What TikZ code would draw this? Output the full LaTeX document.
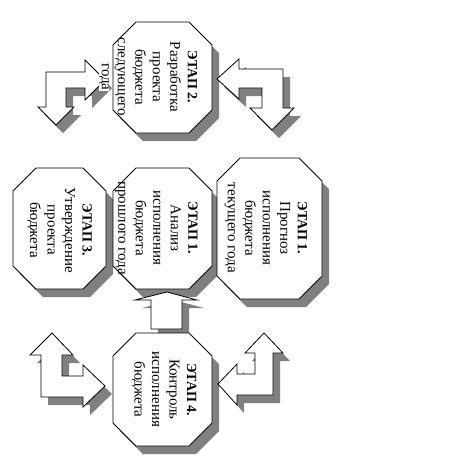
\documentclass[tikz,border=0pt]{standalone}
\usepackage{fontspec}
\setmainfont{Liberation Serif}
\definecolor{shd}{HTML}{808080}
\tikzset{
  shadowfill/.style={fill=shd, draw=none, shift={(7,8)}},
  boxline/.style={draw=black, fill=white, line width=0.8pt, line join=miter},
  txt/.style={rotate=-90, align=center, inner sep=0pt,
    font=\fontsize{15}{17.5}\selectfont},
}
\newcommand\ttl[1]{{\fontsize{14}{17.5}\selectfont\bfseries #1}}
% octagon: x1,y1,x2,y2 (cut 23)
\newcommand\octo[4]{%
  \path[shadowfill] (#1+23,#2) -- (#3-23,#2) -- (#3,#2+23) -- (#3,#4-23) -- (#3-23,#4) -- (#1+23,#4) -- (#1,#4-23) -- (#1,#2+23) -- cycle;
  \path[boxline] (#1+23,#2) -- (#3-23,#2) -- (#3,#2+23) -- (#3,#4-23) -- (#3-23,#4) -- (#1+23,#4) -- (#1,#4-23) -- (#1,#2+23) -- cycle;}
\newcommand\barrow[1]{%
  \path[shadowfill] #1;
  \path[boxline] #1;}
\begin{document}
\begin{tikzpicture}[x=1pt,y=-1pt]
\useasboundingbox (0,0) rectangle (463,467);
% octagons
\octo{13}{168}{106}{289}
\octo{113}{168}{212}{289}
\octo{217}{158}{322}{299}
\octo{113}{22}{212}{133}
% up arrow
\barrow{(167,292) -- (197,300) -- (182,300) -- (182,329) -- (151,329) -- (151,300) -- (135,300) -- cycle}
\octo{113}{333}{212}{446}
% bent arrows
\barrow{(46,72) -- (85,72) -- (85,60) -- (105,80) -- (85,100) -- (85,88) -- (66,88) -- (66,107) -- (74,107) -- (56,125) -- (38,107) -- (46,107) -- cycle}
\barrow{(217,79) -- (239,59) -- (239,69) -- (283,69) -- (283,108) -- (294,108) -- (272,130) -- (250,108) -- (262,108) -- (262,88) -- (239,88) -- (239,99) -- cycle}
\barrow{(52,333) -- (73,355) -- (62,355) -- (62,376) -- (83,376) -- (83,365) -- (105,386) -- (83,407) -- (83,397) -- (41,397) -- (41,355) -- (30,355) -- cycle}
\barrow{(264,333) -- (283,353) -- (273,353) -- (273,395) -- (237,395) -- (237,405) -- (218,384) -- (237,364) -- (237,374) -- (255,374) -- (255,353) -- (245,353) -- cycle}
% texts
\node[txt] (t2) at (156,77) {\ttl{ЭТАП 2.}\\Разработка\\проекта\\бюджета\\следующего};
\node[txt, fill=white, inner sep=0.5pt] (t2b) at (104,77) {года};
\node[txt] (t1a) at (156.5,228) {\ttl{ЭТАП 1.}\\Анализ\\исполнения\\бюджета\\прошлого года};
\node[txt] (t1b) at (266,228) {\ttl{ЭТАП 1.}\\Прогноз\\исполнения\\бюджета\\текущего года};
\node[txt] (t3) at (59.5,230) {\ttl{ЭТАП 3.}\\Утверждение\\проекта\\бюджета};
\node[txt] (t4) at (164,389.5) {\ttl{ЭТАП 4.}\\Контроль\\исполнения\\бюджета};
\end{tikzpicture}
\end{document}
